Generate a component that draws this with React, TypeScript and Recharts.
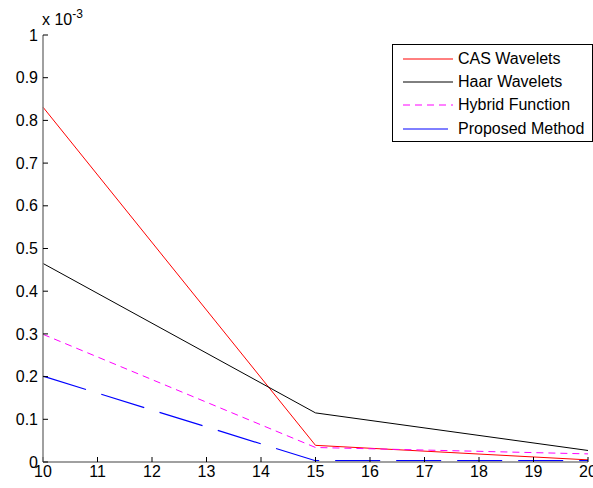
import { LineChart, Line, XAxis, YAxis } from "recharts";

const xValues = [10, 15, 20];
const casWavelets = [0.831, 0.039, 0.005];
const haarWavelets = [0.465, 0.115, 0.027];
const hybridFunction = [0.299, 0.034, 0.019];
const proposedMethod = [0.201, 0.003, 0.003];

const xTicks = [10, 11, 12, 13, 14, 15, 16, 17, 18, 19, 20];
const yTicks = [0, 0.1, 0.2, 0.3, 0.4, 0.5, 0.6, 0.7, 0.8, 0.9, 1];

const data = xValues.map((x, i) => ({
  x,
  cas: casWavelets[i],
  haar: haarWavelets[i],
  hybrid: hybridFunction[i],
  proposed: proposedMethod[i],
}));

const FONT = "'Liberation Sans', Arial, sans-serif";

// legend samples: name, colour, dash, sample length
const series = [
  { key: "cas", name: "CAS Wavelets", color: "#ff0000", dash: undefined, len: 50 },
  { key: "haar", name: "Haar Wavelets", color: "#000000", dash: undefined, len: 50 },
  { key: "hybrid", name: "Hybrid Function", color: "#ff00ff", dash: "7 5", len: 50 },
  { key: "proposed", name: "Proposed Method", color: "#0000ff", dash: "45 16", len: 45 },
];

function LegendBox() {
  return (
    <div
      style={{
        position: "absolute",
        left: 392,
        top: 44,
        width: 201,
        height: 98,
        border: "1px solid #000",
        background: "#fff",
        boxSizing: "border-box",
        paddingTop: 2,
      }}
    >
      {series.map((s) => (
        <div key={s.key} style={{ display: "flex", alignItems: "center", height: 23.3 }}>
          <svg width={65} height={10} style={{ flex: "none" }}>
            <line
              x1={10}
              y1={5}
              x2={10 + s.len}
              y2={5}
              stroke={s.color}
              strokeWidth={1}
              strokeDasharray={s.dash === "45 16" ? undefined : s.dash}
            />
          </svg>
          <span style={{ fontFamily: FONT, fontSize: 16, color: "#000", whiteSpace: "nowrap" }}>
            {s.name}
          </span>
        </div>
      ))}
    </div>
  );
}

export default function App() {
  return (
    <div style={{ position: "absolute", top: 0, left: 0, width: 593, height: 488, background: "#fff", overflow: "hidden" }}>
      <LineChart
        width={593}
        height={488}
        data={data}
        margin={{ top: 35, right: 5, left: 0, bottom: 0 }}
      >
        <XAxis
          dataKey="x"
          type="number"
          domain={[10, 20]}
          ticks={xTicks}
          interval={0}
          height={26}
          tickSize={-5}
          tickMargin={9}
          axisLine={{ stroke: "#808080", strokeWidth: 1.5 }}
          tickLine={{ stroke: "#000" }}
          tick={{ fontSize: 16, fontFamily: FONT, fill: "#000" }}
        />
        <YAxis
          type="number"
          domain={[0, 1]}
          ticks={yTicks}
          interval={0}
          width={43}
          tickSize={-5}
          tickMargin={10}
          axisLine={{ stroke: "#808080", strokeWidth: 1.5 }}
          tickLine={{ stroke: "#000" }}
          tick={{ fontSize: 16, fontFamily: FONT, fill: "#000" }}
          tickFormatter={(v: number) => String(Number(v.toFixed(1)))}
        />
        {series.map((s) => (
          <Line
            key={s.key}
            dataKey={s.key}
            name={s.name}
            stroke={s.color}
            strokeWidth={s.key === "proposed" ? 1.2 : 1}
            strokeDasharray={s.dash}
            dot={false}
            isAnimationActive={false}
            type="linear"
          />
        ))}
      </LineChart>
      <LegendBox />
      <div
        style={{
          position: "absolute",
          left: 42,
          top: 10,
          fontFamily: FONT,
          fontSize: 16,
          color: "#000",
          whiteSpace: "nowrap",
          lineHeight: "20px",
        }}
      >
        x 10<sup style={{ fontSize: 12, verticalAlign: "7px", lineHeight: 0 }}>-3</sup>
      </div>
    </div>
  );
}
